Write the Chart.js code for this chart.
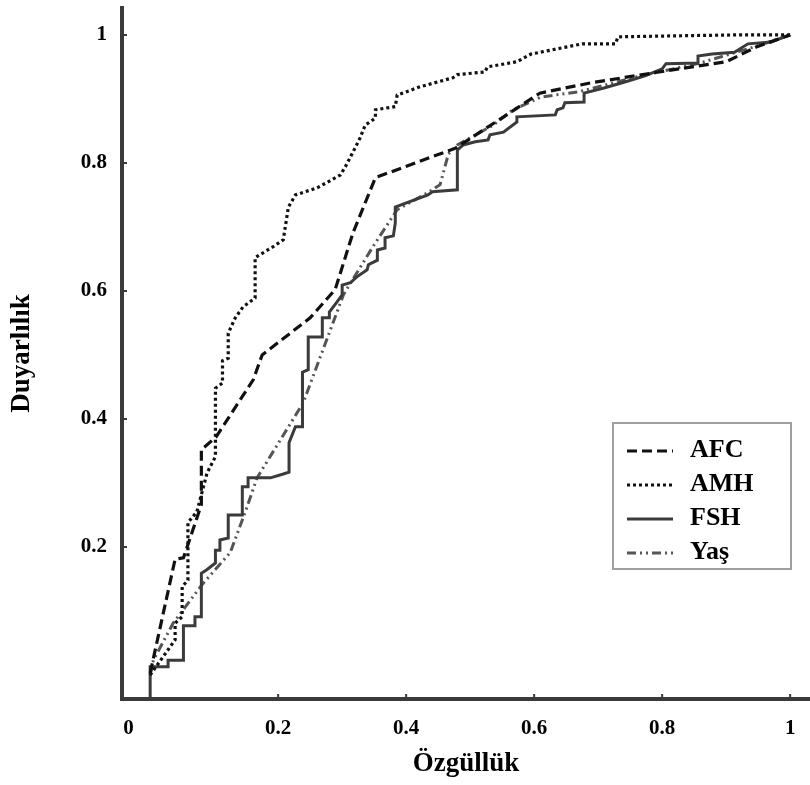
<!DOCTYPE html>
<html>
<head>
<meta charset="utf-8">
<script src="https://cdn.jsdelivr.net/npm/chart.js"></script>
<style>
  html, body { margin: 0; padding: 0; background: #fff; overflow: hidden; }
  #wrap { width: 810px; height: 785px; }
</style>
</head>
<body>
<div id="wrap"><canvas id="roc" width="810" height="785"></canvas></div>
<script>
// ROC curves (x = 1 - özgüllük axis as drawn, y = duyarlılık)
let afcX=[0,0.039,0.052,0.080,0.080,0.103,0.161,0.175,0.25,0.289,0.317,0.352,0.477,0.609,0.688,0.795,0.9,0.947,1];
let afcY=[0.003,0.181,0.183,0.266,0.352,0.372,0.461,0.5,0.558,0.602,0.691,0.777,0.823,0.909,0.925,0.942,0.958,0.981,1];

let amhX=[0,0.039,0.039,0.05,0.05,0.059,0.059,0.073,0.089,0.102,0.102,0.113,0.113,0.122,0.122,0.133,0.145,0.164,0.164,0.192,0.208,0.216,0.227,0.261,0.297,0.305,0.320,0.328,0.336,0.352,0.352,0.383,0.386,0.422,0.473,0.480,0.523,0.527,0.573,0.595,0.675,0.727,0.731,0.916,1];
let amhY=[0,0.055,0.081,0.091,0.138,0.148,0.238,0.255,0.316,0.341,0.448,0.456,0.491,0.495,0.534,0.558,0.575,0.589,0.652,0.669,0.680,0.731,0.750,0.761,0.781,0.794,0.823,0.839,0.859,0.870,0.883,0.888,0.906,0.919,0.933,0.938,0.942,0.950,0.958,0.970,0.986,0.986,0.997,1.0,1];

let fshX=[0,0,0.028,0.028,0.052,0.052,0.070,0.070,0.080,0.080,0.088,0.102,0.102,0.109,0.109,0.122,0.122,0.144,0.144,0.153,0.153,0.188,0.208,0.217,0.217,0.227,0.238,0.238,0.247,0.247,0.269,0.269,0.280,0.280,0.292,0.300,0.300,0.313,0.323,0.339,0.341,0.355,0.355,0.367,0.367,0.380,0.383,0.383,0.391,0.434,0.441,0.480,0.480,0.489,0.508,0.528,0.531,0.552,0.573,0.573,0.633,0.636,0.645,0.648,0.678,0.678,0.709,0.747,0.773,0.8,0.806,0.856,0.856,0.878,0.913,0.934,0.970,1];
let fshY=[-0.039,0.013,0.013,0.023,0.023,0.077,0.077,0.091,0.091,0.159,0.164,0.175,0.195,0.195,0.211,0.214,0.25,0.25,0.294,0.294,0.308,0.308,0.314,0.317,0.363,0.388,0.388,0.473,0.477,0.528,0.528,0.558,0.558,0.567,0.583,0.594,0.609,0.613,0.622,0.633,0.641,0.648,0.664,0.667,0.683,0.686,0.706,0.731,0.734,0.75,0.755,0.758,0.820,0.828,0.833,0.836,0.844,0.848,0.864,0.872,0.875,0.883,0.886,0.894,0.895,0.909,0.917,0.928,0.936,0.947,0.955,0.956,0.967,0.970,0.973,0.986,0.989,1];

let yasX=[0,0.005,0.036,0.081,0.125,0.148,0.167,0.239,0.270,0.302,0.316,0.348,0.386,0.433,0.453,0.466,0.480,0.536,0.567,0.611,0.669,0.758,0.859,0.953,1];
let yasY=[0,0.023,0.081,0.141,0.191,0.253,0.308,0.425,0.508,0.594,0.617,0.669,0.727,0.753,0.766,0.814,0.828,0.859,0.883,0.903,0.911,0.934,0.956,0.984,1];

let seriesNames=['AFC','AMH','FSH','Yaş'];
let xTickValues=[-0.034,0.2,0.4,0.6,0.8,1];
let xTickLabels=['0','0.2','0.4','0.6','0.8','1'];
let yTickValues=[0.2,0.4,0.6,0.8,1];
let yTickLabels=['0.2','0.4','0.6','0.8','1'];

function pts(xs,ys){
    let out=[];
    for(let i=0;i<xs.length;++i) out.push({x:xs[i],y:ys[i]});
    return out;
}

const axisColor='#3a3a3a';
const serif='"Liberation Serif", "Times New Roman", serif';

// small tick marks pointing into the plot
const innerTicks={
    id:'innerTicks',
    afterDatasetsDraw(chart){
        const ctx=chart.ctx, xs=chart.scales.x, ys=chart.scales.y;
        ctx.save();
        ctx.strokeStyle=axisColor;
        ctx.lineWidth=2;
        ctx.beginPath();
        xTickValues.forEach(v=>{
            if(v<=0) return;
            let p=xs.getPixelForValue(v);
            ctx.moveTo(p,ys.bottom);
            ctx.lineTo(p,ys.bottom-5);
        });
        yTickValues.forEach(v=>{
            let p=ys.getPixelForValue(v);
            ctx.moveTo(xs.left,p);
            ctx.lineTo(xs.left+5,p);
        });
        ctx.stroke();
        ctx.restore();
    }
};

// boxed legend inside the plot, bottom right
const boxLegend={
    id:'boxLegend',
    afterDraw(chart){
        const ctx=chart.ctx;
        ctx.save();
        ctx.strokeStyle='#a0a0a0';
        ctx.lineWidth=2;
        ctx.strokeRect(613,423,178,146);
        chart.data.datasets.forEach((ds,i)=>{
            let y=451+i*34;
            ctx.strokeStyle=ds.borderColor;
            ctx.lineWidth=ds.borderWidth;
            ctx.setLineDash(ds.borderDash||[]);
            ctx.beginPath();
            ctx.moveTo(627,y);
            ctx.lineTo(673,y);
            ctx.stroke();
            ctx.setLineDash([]);
            ctx.fillStyle='#000';
            ctx.font='bold 26px '+serif;
            ctx.textBaseline='middle';
            ctx.textAlign='left';
            ctx.fillText(ds.label,690,y-1);
        });
        ctx.restore();
    }
};

new Chart('roc',{
    type:'line',
    data:{
        datasets:[
            {label:seriesNames[0],data:pts(afcX,afcY),borderColor:'#111',borderWidth:3.2,borderDash:[10,5]},
            {label:seriesNames[1],data:pts(amhX,amhY),borderColor:'#111',borderWidth:3.2,borderDash:[3,3]},
            {label:seriesNames[2],data:pts(fshX,fshY),borderColor:'#3b3b3b',borderWidth:3,borderDash:[]},
            {label:seriesNames[3],data:pts(yasX,yasY),borderColor:'#555',borderWidth:3,borderDash:[9,4,2,4,2,4]}
        ]
    },
    options:{
        responsive:false,
        animation:false,
        events:[],
        layout:{padding:{left:0,right:0,top:8,bottom:0}},
        elements:{point:{radius:0},line:{tension:0,fill:false}},
        plugins:{legend:{display:false},tooltip:{enabled:false}},
        scales:{
            x:{
                type:'linear',
                min:-0.044,
                max:1.031,
                afterBuildTicks(s){ s.ticks=xTickValues.map(v=>({value:v})); },
                afterFit(s){ s.height=86; s.paddingLeft=0; s.paddingRight=0; },
                grid:{display:true,drawOnChartArea:false,drawTicks:false},
                border:{display:true,color:axisColor,width:4},
                ticks:{
                    padding:17,
                    color:'#000',
                    font:{family:serif,size:21,weight:'bold'},
                    callback:(v,i)=>xTickLabels[i]
                },
                title:{
                    display:true,
                    text:'Özgüllük',
                    color:'#000',
                    font:{family:serif,size:27,weight:'bold'},
                    padding:{top:0,bottom:5}
                }
            },
            y:{
                type:'linear',
                min:-0.0375,
                max:1.042,
                afterBuildTicks(s){ s.ticks=yTickValues.map(v=>({value:v})); },
                afterFit(s){ s.width=122; s.paddingTop=0; s.paddingBottom=0; },
                grid:{display:true,drawOnChartArea:false,drawTicks:false},
                border:{display:true,color:axisColor,width:4},
                ticks:{
                    padding:15,
                    color:'#000',
                    font:{family:serif,size:21,weight:'bold'},
                    callback:(v,i)=>yTickLabels[i]
                },
                title:{
                    display:true,
                    text:'Duyarlılık',
                    color:'#000',
                    font:{family:serif,size:27,weight:'bold'},
                    padding:{top:6,bottom:0}
                }
            }
        }
    },
    plugins:[innerTicks,boxLegend]
});
</script>
</body>
</html>
